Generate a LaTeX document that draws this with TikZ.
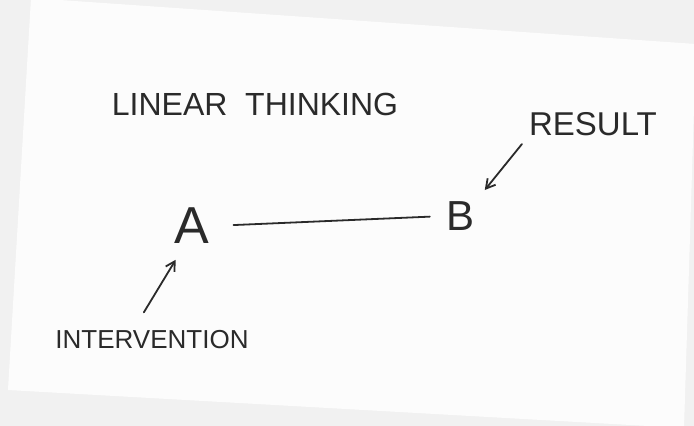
\documentclass[tikz,border=0pt]{standalone}
\usepackage{fontspec}
\setmainfont{Liberation Sans}
\usepackage{xcolor}
\definecolor{cInk}{HTML}{2A2A2A}
\definecolor{cPaper}{HTML}{FCFCFC}
\definecolor{cDesk}{HTML}{F1F1F1}
\usetikzlibrary{positioning,arrows.meta,calc}
\tikzset{
  hand-text/.style={text=cInk,inner sep=2pt,font=\fontsize{32}{32}\selectfont},
  hand-letter/.style={text=cInk,inner sep=2pt,font=\fontsize{52}{52}\selectfont},
  hand-line/.style={draw=cInk,line width=1.8pt,line cap=round},
  hand-arrow/.style={hand-line,-{Straight Barb[length=3.2mm,width=3.6mm,line width=1.8pt]}},
}

\begin{document}
\begin{tikzpicture}[x=1pt,y=-1pt]
  \useasboundingbox (0,0) rectangle (694,426);
  % sheet of paper, a little tilted
  \fill[cDesk] (0,0) rectangle (694,426);
  \fill[cPaper] (31,-2) -- (696,44) -- (684,428) -- (8,390) -- cycle;

  \node[hand-text] (title) at (255,104) {LINEAR\ \ THINKING};
  \node[hand-letter] (A) at (192,226) {A};
  \node[hand-letter,font=\fontsize{42}{42}\selectfont] (B) at (461,216) {B};
  \node[hand-text,font=\fontsize{33}{33}\selectfont] (res) at (593,124) {RESULT};
  \node[hand-text,font=\fontsize{26}{26}\selectfont] (int) at (152,340) {INTERVENTION};

  \draw[hand-line,shorten <=22pt,shorten >=15pt] (A.east) -- (B.west);
  \draw[hand-arrow,shorten <=8pt,shorten >=12pt] (res.south west) -- (B.north east);
  \draw[hand-arrow,shorten <=19pt,shorten >=16pt] ([xshift=-18pt]int.north) -- ([xshift=-8pt]A.south);
\end{tikzpicture}
\end{document}
